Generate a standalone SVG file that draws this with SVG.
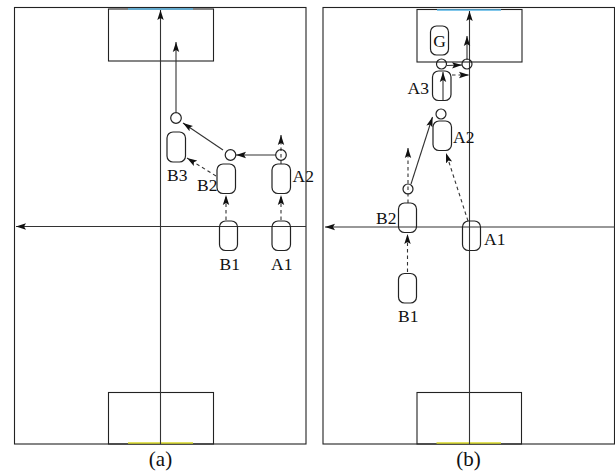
<svg xmlns="http://www.w3.org/2000/svg" width="615" height="472" viewBox="0 0 615 472">
<style>
.f{fill:none;stroke:#222;stroke-width:1.1}
.n{fill:none;stroke:#222;stroke-width:1.2}
.l{fill:none;stroke:#333;stroke-width:1.1;marker-end:url(#a)}
.d{fill:none;stroke:#333;stroke-width:1.1;stroke-dasharray:3.5 3;marker-end:url(#a)}
text{font-family:"Liberation Serif","Times New Roman",serif;font-size:17.5px;fill:#111}
.m{text-anchor:middle}
.cap{font-size:21px}
</style>
<defs><marker id="a" markerUnits="userSpaceOnUse" markerWidth="12" markerHeight="8" refX="10" refY="4" orient="auto"><path d="M0 0.8 L10 4 L0 7.2 L2 4Z" fill="#111"/></marker></defs>
<rect width="615" height="472" fill="#fff"/>
<g id="field-a">
<rect class="f" x="14.500" y="7.500" width="291.500" height="436.500"/>
<rect class="f" x="108.500" y="9" width="105" height="52"/>
<rect class="f" x="108.500" y="392.500" width="105" height="51.500"/>
<path d="M128 9H193" stroke="#5bb8e8" stroke-width="1.600" fill="none"/>
<path d="M128 443H193" stroke="#d8d82a" stroke-width="1.600" fill="none"/>
</g>
<g id="field-b">
<rect class="f" x="323" y="7.500" width="291.500" height="436.500"/>
<rect class="f" x="417" y="9.500" width="105" height="52.500"/>
<rect class="f" x="417" y="392.500" width="104.500" height="51.500"/>
<path d="M437 10H501" stroke="#5bb8e8" stroke-width="1.600" fill="none"/>
<path d="M436.500 443H501" stroke="#d8d82a" stroke-width="1.600" fill="none"/>
</g>
<g id="connectors">
<path class="l" d="M160.500 444V10"/>
<path class="l" d="M306 226.500H16"/>
<path class="l" d="M176 112V42"/>
<path class="l" d="M223 150L183 123"/>
<path class="l" d="M276 155H236"/>
<path class="d" d="M281 164V135"/>
<path class="d" d="M216 176L187 158"/>
<path class="d" d="M226 220V195"/>
<path class="d" d="M281 220V195"/>
<path class="l" d="M469.500 444V11"/>
<path class="l" d="M615 227H325"/>
<path class="l" d="M443 100V72"/>
<path class="l" d="M447 65.500L462 65"/>
<path class="d" d="M452 75H469"/>
<path class="l" d="M467 60V36"/>
<path class="l" d="M411 184L432.500 117"/>
<path class="d" d="M408 203V148"/>
<path class="d" d="M468 221L446 153"/>
<path class="d" d="M407.500 272V234"/>
</g>
<g id="a-c1"><circle class="n" cx="176" cy="118" r="5.300"/></g>
<g id="a-c2"><circle class="n" cx="230.500" cy="155" r="5.300"/></g>
<g id="a-c3"><circle class="n" cx="281" cy="155" r="5.300"/></g>
<g id="a-B3"><rect class="n" x="167" y="132" width="18.500" height="30" rx="6"/><text x="167" y="181">B3</text></g>
<g id="a-B2"><rect class="n" x="217" y="164" width="18.500" height="29.500" rx="6"/><text x="197" y="191">B2</text></g>
<g id="a-A2"><rect class="n" x="272" y="164" width="18.500" height="29.500" rx="6"/><text x="292.500" y="182">A2</text></g>
<g id="a-B1"><rect class="n" x="219.500" y="221" width="18" height="29.500" rx="6"/><text x="219.500" y="270">B1</text></g>
<g id="a-A1"><rect class="n" x="272" y="221" width="18.500" height="29.500" rx="6"/><text x="271" y="270">A1</text></g>
<g id="b-G"><rect class="n" x="430.500" y="26" width="18" height="29" rx="6"/><text class="m" x="439.500" y="47">G</text></g>
<g id="b-c1"><circle class="n" cx="441.500" cy="64" r="5"/></g>
<g id="b-c2"><circle class="n" cx="467" cy="64" r="5"/></g>
<g id="b-c3"><circle class="n" cx="441" cy="114" r="5"/></g>
<g id="b-c4"><circle class="n" cx="408" cy="189" r="5"/></g>
<g id="b-A3"><rect class="n" x="432.500" y="71" width="18.500" height="29.500" rx="6"/><text x="407.500" y="94">A3</text></g>
<g id="b-A2"><rect class="n" x="433" y="121" width="18.500" height="29.500" rx="6"/><text x="453" y="143">A2</text></g>
<g id="b-B2"><rect class="n" x="398.500" y="203" width="18" height="29.500" rx="6"/><text x="376" y="224">B2</text></g>
<g id="b-B1"><rect class="n" x="398.500" y="273.500" width="18" height="29.500" rx="6"/><text x="398" y="322">B1</text></g>
<g id="b-A1"><rect class="n" x="462.500" y="221" width="18" height="29.500" rx="6"/><text x="484" y="245">A1</text></g>
<text class="m cap" x="160.500" y="466">(a)</text>
<text class="m cap" x="468.500" y="466">(b)</text>
</svg>
